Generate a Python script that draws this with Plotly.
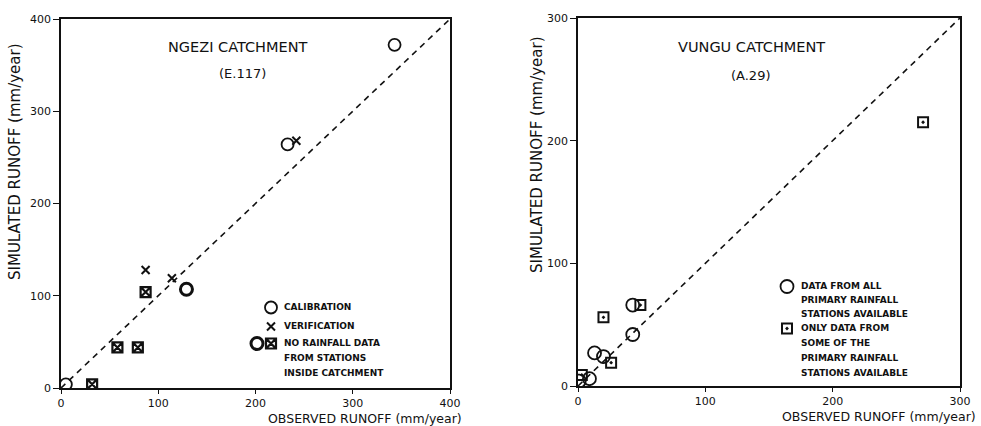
import plotly.graph_objects as go

# ---------------- data ----------------
# NGEZI catchment (E.117)
ngezi_cal_x = [5, 233, 343]
ngezi_cal_y = [4, 264, 372]
ngezi_ver_x = [87, 114, 242]
ngezi_ver_y = [128, 119, 268]
ngezi_norain_cal_x = [129]
ngezi_norain_cal_y = [107]
ngezi_norain_ver_x = [32, 58, 79, 87]
ngezi_norain_ver_y = [4, 44, 44, 104]
ngezi_line = [0, 400]
ngezi_ticks = [0, 100, 200, 300, 400]

# VUNGU catchment (A.29)
vungu_all_x = [1, 9, 13, 20, 43, 43]
vungu_all_y = [4, 6, 27, 24, 42, 66]
vungu_some_x = [3, 20, 26, 49, 271]
vungu_some_y = [9, 56, 19, 66, 215]
vungu_line = [0, 300]
vungu_ticks = [0, 100, 200, 300]

W, H = 981, 426
FONT = "DejaVu Sans"
BLACK = "#111111"


def px(x):
    return x / W


def py(y):
    return 1 - y / H


fig = go.Figure()

# ---- left panel traces ----
fig.add_trace(go.Scatter(x=ngezi_line, y=ngezi_line, mode="lines",
                         line=dict(color=BLACK, width=1.6, dash="6px,5px"),
                         xaxis="x", yaxis="y", showlegend=False))
fig.add_trace(go.Scatter(x=ngezi_cal_x, y=ngezi_cal_y, mode="markers",
                         marker=dict(symbol="circle-open", size=12, color=BLACK, line=dict(width=1.8)),
                         xaxis="x", yaxis="y", name="", legend="legend"))
fig.add_trace(go.Scatter(x=ngezi_ver_x, y=ngezi_ver_y, mode="markers",
                         marker=dict(symbol="x-thin-open", size=8, color=BLACK, line=dict(width=2)),
                         xaxis="x", yaxis="y", name="", legend="legend2"))
fig.add_trace(go.Scatter(x=ngezi_norain_cal_x, y=ngezi_norain_cal_y, mode="markers",
                         marker=dict(symbol="circle-open", size=12, color=BLACK, line=dict(width=3)),
                         xaxis="x", yaxis="y", name="", legend="legend3"))
fig.add_trace(go.Scatter(x=ngezi_norain_ver_x, y=ngezi_norain_ver_y, mode="markers",
                         marker=dict(symbol="square-x-open", size=10, color=BLACK, line=dict(width=2.2)),
                         xaxis="x", yaxis="y", name="", legend="legend4"))

# ---- right panel traces ----
fig.add_trace(go.Scatter(x=vungu_line, y=vungu_line, mode="lines",
                         line=dict(color=BLACK, width=1.6, dash="6px,5px"),
                         xaxis="x2", yaxis="y2", showlegend=False))
fig.add_trace(go.Scatter(x=vungu_all_x, y=vungu_all_y, mode="markers",
                         marker=dict(symbol="circle-open", size=13, color=BLACK, line=dict(width=1.8)),
                         xaxis="x2", yaxis="y2", name="", legend="legend5"))
fig.add_trace(go.Scatter(x=vungu_some_x, y=vungu_some_y, mode="markers",
                         marker=dict(symbol="square-open-dot", size=10, color=BLACK, line=dict(width=2)),
                         xaxis="x2", yaxis="y2", name="", legend="legend6"))

axis_common = dict(showline=True, linecolor=BLACK, linewidth=1.8, mirror=True,
                   ticks="outside", tickwidth=1.4, tickcolor=BLACK,
                   showgrid=False, zeroline=False,
                   tickfont=dict(family=FONT, size=11, color=BLACK))

fig.update_layout(
    width=W, height=H,
    margin=dict(l=0, r=0, t=0, b=0, autoexpand=False),
    paper_bgcolor="white", plot_bgcolor="white",
    xaxis=dict(axis_common, ticklen=4, domain=[px(61), px(450)], range=[0, 400],
               tickvals=ngezi_ticks, anchor="y"),
    yaxis=dict(axis_common, ticklen=6, domain=[py(388), py(19)], range=[0, 400],
               tickvals=ngezi_ticks, anchor="x"),
    xaxis2=dict(axis_common, ticklen=4, domain=[px(578), px(960)], range=[0, 300],
                tickvals=vungu_ticks, anchor="y2"),
    yaxis2=dict(axis_common, ticklen=6, domain=[py(386), py(18)], range=[0, 300],
                tickvals=vungu_ticks, anchor="x2"),
)

# ---- single-key legends (text drawn as annotations) ----
def key_legend(cx, cy):
    return dict(x=px(cx - 20), y=py(cy - 14), xanchor="left", yanchor="top",
                bgcolor="rgba(0,0,0,0)", borderwidth=0,
                font=dict(family=FONT, size=9, color=BLACK), itemwidth=30)


fig.update_layout(
    legend=key_legend(271, 307),
    legend2=key_legend(271, 326),
    legend3=key_legend(257, 343),
    legend4=key_legend(271, 343),
    legend5=key_legend(787, 286),
    legend6=key_legend(787, 328),
)

annotations = []


def text(x, y, s, size=9, anchor="left", angle=0, weight="normal"):
    annotations.append(dict(x=px(x), y=py(y), xref="paper", yref="paper", text=s,
                            showarrow=False, xanchor=anchor, yanchor="middle",
                            textangle=angle, borderpad=0,
                            font=dict(family=FONT, size=size, color=BLACK, weight=weight)))


# titles
text(238, 47, "NGEZI CATCHMENT", size=14.5, anchor="center")
text(242, 73, "(E.117)", size=13, anchor="center")
text(751, 47, "VUNGU CATCHMENT", size=14.5, anchor="center")
text(750, 75, "(A.29)", size=13, anchor="center")

# axis titles
text(463, 418, "OBSERVED RUNOFF (mm/year)", size=12.5, anchor="right")
text(977, 416, "OBSERVED RUNOFF (mm/year)", size=12.5, anchor="right")
text(15, 162, "SIMULATED RUNOFF (mm/year)", size=15, anchor="center", angle=-90)
text(537, 155, "SIMULATED RUNOFF (mm/year)", size=15, anchor="center", angle=-90)

# left legend text
LB = "bold"
text(283, 307, "CALIBRATION", weight=LB)
text(283, 326, "VERIFICATION", weight=LB)
text(283, 343, "NO RAINFALL DATA", weight=LB)
text(283, 358, "FROM STATIONS", weight=LB)
text(283, 373, "INSIDE CATCHMENT", weight=LB)

# right legend text
text(800, 286, "DATA FROM ALL", weight=LB)
text(800, 300, "PRIMARY RAINFALL", weight=LB)
text(800, 314, "STATIONS AVAILABLE", weight=LB)
text(800, 328, "ONLY DATA FROM", weight=LB)
text(800, 343, "SOME OF THE", weight=LB)
text(800, 358, "PRIMARY RAINFALL", weight=LB)
text(800, 373, "STATIONS AVAILABLE", weight=LB)

fig.update_layout(annotations=annotations)

fig.write_html("out.html",
               config={"displayModeBar": False},
               post_script="document.body.style.margin='0';document.body.style.padding='0';")
